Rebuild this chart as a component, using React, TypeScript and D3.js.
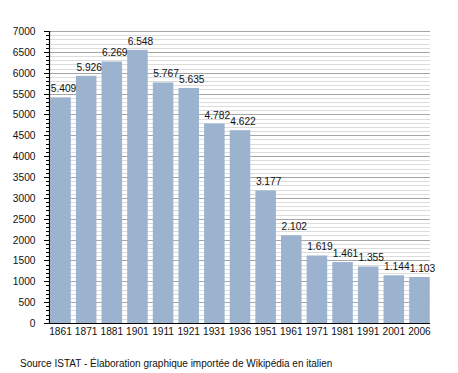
import React from "react";
import * as d3 from "d3";

const years = ["1861","1871","1881","1901","1911","1921","1931","1936","1951","1961","1971","1981","1991","2001","2006"];
const population = [5409,5926,6269,6548,5767,5635,4782,4622,3177,2102,1619,1461,1355,1144,1103];
const yTicks = [0,500,1000,1500,2000,2500,3000,3500,4000,4500,5000,5500,6000,6500,7000];
const footer = "Source ISTAT - Élaboration graphique importée de Wikipédia en italien";

const W = 458, H = 373;
const left = 49, right = 430, top = 31, bottom = 323;
const font = "'Liberation Sans', Arial, sans-serif";

const fmt = (v: number) => {
  const s = String(v);
  return s.length > 3 ? s.slice(0, s.length - 3) + "." + s.slice(-3) : s;
};

export default function App() {
  const x = d3.scaleBand<string>().domain(years).range([left, right + 1]).paddingInner(0.2).paddingOuter(0.05);
  const y = d3.scaleLinear().domain([0, 7000]).range([bottom, top]);
  const minor = d3.range(0, 7001, 100).filter((v) => v % 500 !== 0);

  return (
    <svg width={W} height={H} style={{ position: "absolute", left: 0, top: 0, background: "#fff" }}>
      {minor.map((v) => (
        <line key={"m" + v} x1={left} x2={right} y1={Math.round(y(v)) + 0.5} y2={Math.round(y(v)) + 0.5} stroke="#dcdcdc" strokeWidth={1} />
      ))}
      {yTicks.filter((v) => v > 0).map((v) => (
        <line key={"g" + v} x1={left} x2={right} y1={Math.round(y(v)) + 0.5} y2={Math.round(y(v)) + 0.5} stroke="#a6a6a6" strokeWidth={1} />
      ))}
      {population.map((v, i) => (
        <rect key={"b" + i} x={x(years[i])!} y={y(v)} width={x.bandwidth()} height={bottom - y(v)} fill="#9bb3cf" />
      ))}
      {population.map((v, i) => (
        <text key={"l" + i} x={x(years[i])! + 0.5} y={y(v) - 5} fontFamily={font} fontSize={10.2} fill="#111">
          {fmt(v)}
        </text>
      ))}
      {minor.map((v) => (
        <line key={"mt" + v} x1={left - 3} x2={left} y1={Math.round(y(v)) + 0.5} y2={Math.round(y(v)) + 0.5} stroke="#000" strokeWidth={1} />
      ))}
      {yTicks.map((v) => (
        <g key={"t" + v}>
          <line x1={left - 5} x2={left} y1={Math.round(y(v)) + 0.5} y2={Math.round(y(v)) + 0.5} stroke="#000" strokeWidth={1} />
          <text x={35.5} y={y(v) + 4} textAnchor="end" fontFamily={font} fontSize={10.2} fill="#111">{v}</text>
        </g>
      ))}
      <line x1={left + 0.5} x2={left + 0.5} y1={top} y2={bottom + 1} stroke="#000" strokeWidth={1.2} />
      <line x1={left} x2={right} y1={bottom + 0.5} y2={bottom + 0.5} stroke="#000" strokeWidth={1.2} />
      {years.map((yr) => (
        <text key={"x" + yr} x={x(yr)! + x.bandwidth() / 2} y={bottom + 11.5} textAnchor="middle" fontFamily={font} fontSize={10.2} fill="#111">
          {yr}
        </text>
      ))}
      <text x={20} y={366.5} fontFamily={font} fontSize={10} fill="#111">{footer}</text>
    </svg>
  );
}
